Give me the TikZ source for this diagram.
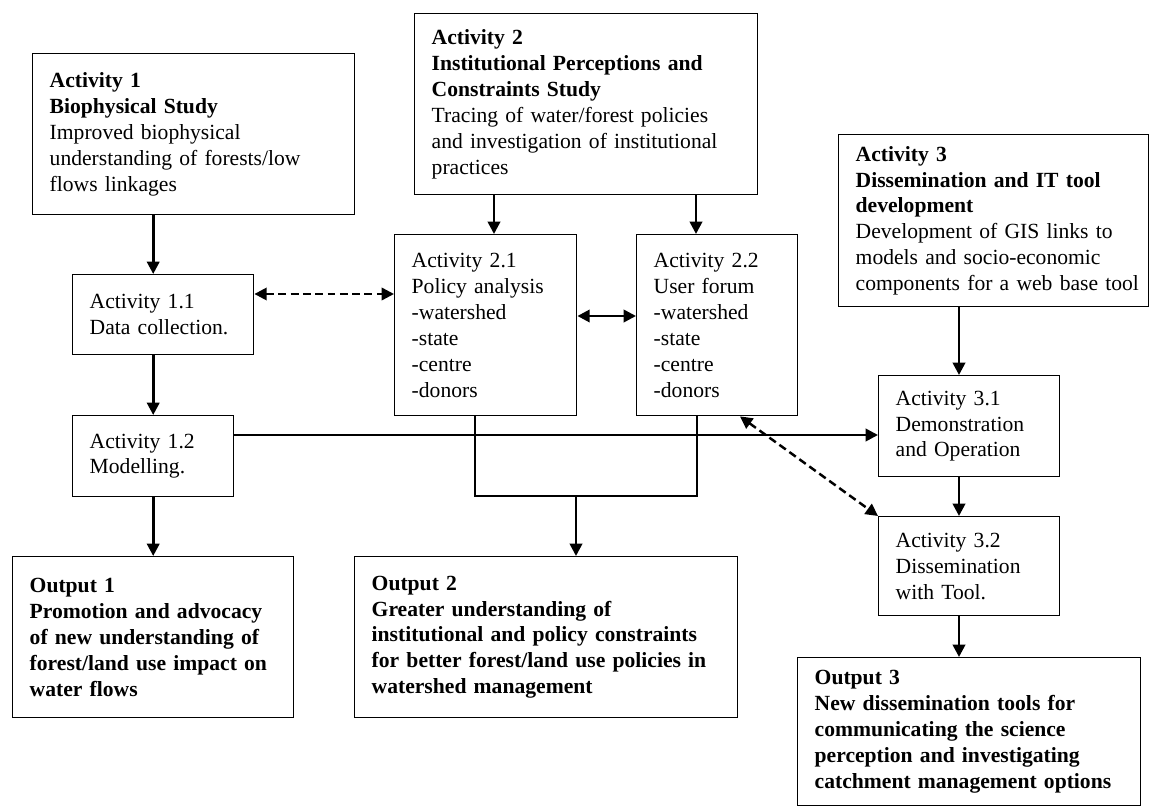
\documentclass[tikz,border=0pt]{standalone}
\usepackage{fontspec}
\setmainfont{Liberation Serif}
\usetikzlibrary{arrows.meta}
\tikzset{
  box/.style 2 args={draw,line width=0.8pt,anchor=north west,inner xsep=0pt,inner ysep=0pt,
    align=left,text width=#1*0.02cm,minimum height=#2*0.02cm,
    execute at begin node={\leftskip=0.34cm\relax}},
  link/.style={->,line width=1.5pt},
  dlink/.style={<->,line width=1.4pt,dash pattern=on 4.5pt off 2.5pt}
}
\begin{document}
\begin{tikzpicture}[x=0.02cm,y=-0.02cm,>={Triangle[length=7pt,width=7pt]},
    line join=miter,font=\fontsize{12.3}{14.75}\selectfont]
\useasboundingbox (0,0) rectangle (1150,811);
% boxes
\node[box={322}{161}] (act1) at (32,53) {\textbf{Activity 1}\\\textbf{Biophysical Study}\\Improved biophysical\\understanding of forests/low\\flows linkages};
\node[box={343}{181}] (act2) at (414,13) {\textbf{Activity 2}\\\textbf{Institutional Perceptions and}\\\textbf{Constraints Study}\\Tracing of water/forest policies\\and investigation of institutional\\practices};
\node[box={310}{172}] (act3) at (838,134) {\textbf{Activity 3}\\\textbf{Dissemination and IT tool}\\\textbf{development}\\Development of GIS links to\\models and socio-economic\\components for a web base tool};
\node[box={181}{80}] (act11) at (72,274) {Activity 1.1\\Data collection.};
\node[box={161}{81}] (act12) at (72,415) {Activity 1.2\\Modelling.};
\node[box={182}{181}] (act21) at (394,234) {Activity 2.1\\Policy analysis\\-watershed\\-state\\-centre\\-donors};
\node[box={161}{181}] (act22) at (636,234) {Activity 2.2\\User forum\\-watershed\\-state\\-centre\\-donors};
\node[box={181}{101}] (act31) at (878,375) {Activity 3.1\\Demonstration\\and Operation};
\node[box={181}{99}] (act32) at (878,516) {Activity 3.2\\Dissemination\\with Tool.};
\node[box={281}{161}] (out1) at (12,556) {\textbf{Output 1}\\\textbf{Promotion and advocacy}\\\textbf{of new understanding of}\\\textbf{forest/land use impact on}\\\textbf{water flows}};
\node[box={383}{161}] (out2) at (354,556) {\textbf{Output 2}\\\textbf{Greater understanding of}\\\textbf{institutional and policy constraints}\\\textbf{for better forest/land use policies in}\\\textbf{watershed management}};
\node[box={343}{148}] (out3) at (797,657) {\textbf{Output 3}\\\textbf{New dissemination tools for}\\\textbf{communicating the science}\\\textbf{perception and investigating}\\\textbf{catchment management options}};
% where the connectors run
\path (494,0) coordinate (X21) (696,0) coordinate (X22) (959,0) coordinate (X3)
  (740,0) coordinate (D22) (475,0) coordinate (B1) (697,0) coordinate (B2)
  (576,0) coordinate (O2) (0,294) coordinate (Y11) (0,316) coordinate (Y21)
  (0,435) coordinate (Y12) (0,496) coordinate (YB);
% activity 1 column
\foreach \a/\b in {act1/act11,act11/act12,act12/out1}
  \draw[link] (\a.south -| act12.north) -- (\b.north -| act12.north);
% activity 2
\draw[link] (act2.south -| X21) -- (act21.north -| X21);
\draw[link] (act2.south -| X22) -- (act22.north -| X22);
\draw[<->,line width=1.5pt] (act21.east |- Y21) -- (act22.west |- Y21);
\draw[line width=0.7pt] (act21.south -| B1) |- (YB -| B2) -- (act22.south -| B2);
\draw[link] (YB -| O2) -- (out2.north -| O2);
% activity 3 column
\foreach \a/\b in {act3/act31,act31/act32,act32/out3}
  \draw[link] (\a.south -| X3) -- (\b.north -| X3);
% cross links
\draw[link] (act12.east |- Y12) -- (act31.west |- Y12);
\draw[dlink] (act11.east |- Y11) -- (act21.west |- Y11);
\draw[dlink] (act22.south -| D22) -- (act32.north west);
\end{tikzpicture}
\end{document}
